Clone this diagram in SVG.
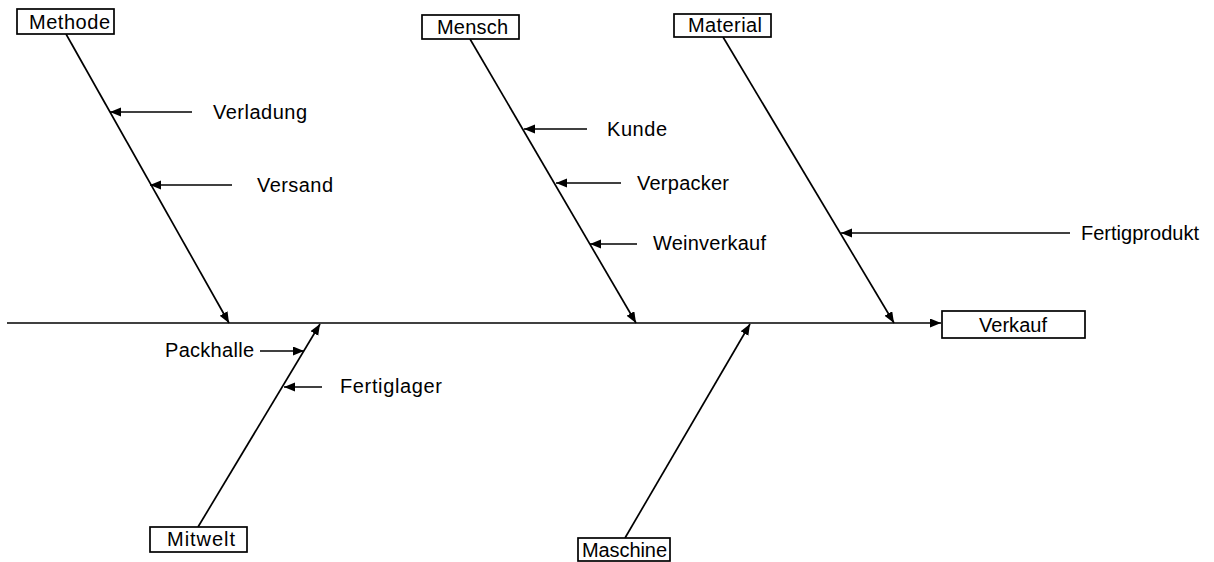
<svg xmlns="http://www.w3.org/2000/svg" width="1214" height="562" viewBox="0 0 1214 562">
  <style>
    .box { fill: #fff; stroke: #000; stroke-width: 1.7; }
    .lbl { font-family: "Liberation Sans", Arial, sans-serif; font-size: 20px; fill: #000; }
    .ln { stroke: #000; stroke-width: 1.7; fill: none; marker-end: url(#tip); }
  </style>
  <defs>
    <marker id="tip" markerUnits="userSpaceOnUse" markerWidth="13" markerHeight="10" refX="11" refY="4.5" orient="auto">
      <path d="M0,0 L11,4.5 L0,9 Z" fill="#000"/>
    </marker>
  </defs>
  <rect width="1214" height="562" fill="#fff"/>

  <!-- connectors: spine, bones and cause arrows -->
  <g id="connectors">
    <line class="ln" x1="7" y1="323" x2="941" y2="323"/>
    <line class="ln" x1="66" y1="34" x2="229" y2="323"/>
    <line class="ln" x1="470" y1="39" x2="636" y2="323"/>
    <line class="ln" x1="723" y1="37" x2="894" y2="323"/>
    <line class="ln" x1="198" y1="527" x2="320" y2="324"/>
    <line class="ln" x1="625" y1="538" x2="750" y2="324"/>
    <line class="ln" x1="192" y1="112" x2="110" y2="112"/>
    <line class="ln" x1="232" y1="185" x2="150" y2="185"/>
    <line class="ln" x1="587" y1="129" x2="524" y2="129"/>
    <line class="ln" x1="621" y1="183" x2="556" y2="183"/>
    <line class="ln" x1="637" y1="244" x2="590" y2="244"/>
    <line class="ln" x1="1070" y1="233" x2="841" y2="233"/>
    <line class="ln" x1="260" y1="351" x2="304" y2="351"/>
    <line class="ln" x1="322" y1="387" x2="284" y2="387"/>
  </g>

  <g id="methode"><rect class="box" x="17" y="9" width="97" height="25"/><text class="lbl" x="29" y="29" textLength="81">Methode</text></g>
  <g id="mensch"><rect class="box" x="422" y="15" width="97" height="24"/><text class="lbl" x="437" y="34" textLength="71">Mensch</text></g>
  <g id="material"><rect class="box" x="674" y="14" width="97" height="23"/><text class="lbl" x="688" y="32" textLength="74">Material</text></g>
  <g id="verkauf"><rect class="box" x="942" y="311" width="143" height="27"/><text class="lbl" x="979" y="332" textLength="68">Verkauf</text></g>
  <g id="mitwelt"><rect class="box" x="150" y="527" width="97" height="25"/><text class="lbl" x="167" y="546" textLength="68">Mitwelt</text></g>
  <g id="maschine"><rect class="box" x="578" y="538" width="92" height="23"/><text class="lbl" x="582" y="557" textLength="85">Maschine</text></g>

  <g id="verladung"><text class="lbl" x="213" y="119" textLength="94">Verladung</text></g>
  <g id="versand"><text class="lbl" x="257" y="192" textLength="76">Versand</text></g>
  <g id="kunde"><text class="lbl" x="607" y="136" textLength="60">Kunde</text></g>
  <g id="verpacker"><text class="lbl" x="637" y="190" textLength="92">Verpacker</text></g>
  <g id="weinverkauf"><text class="lbl" x="653" y="250" textLength="113">Weinverkauf</text></g>
  <g id="fertigprodukt"><text class="lbl" x="1081" y="240" textLength="118">Fertigprodukt</text></g>
  <g id="packhalle"><text class="lbl" x="165" y="357" textLength="89">Packhalle</text></g>
  <g id="fertiglager"><text class="lbl" x="340" y="393" textLength="102">Fertiglager</text></g>
</svg>
